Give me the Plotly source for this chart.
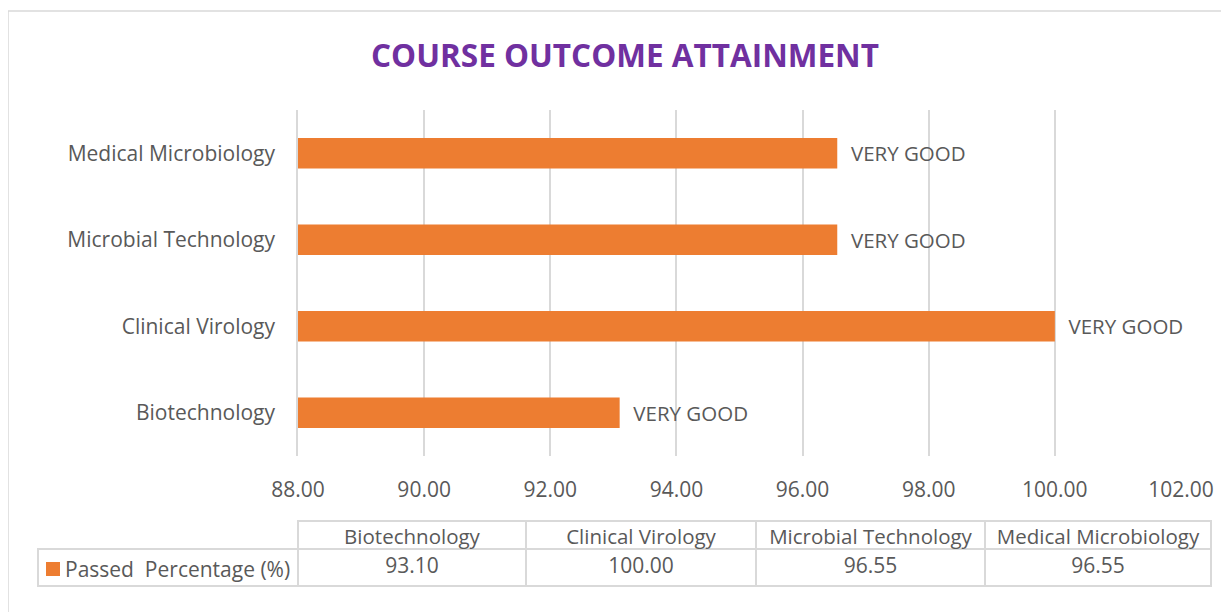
import plotly.graph_objects as go

categories = ["Biotechnology", "Clinical Virology", "Microbial Technology", "Medical Microbiology"]
passed_pct = [93.10, 100.00, 96.55, 96.55]
bar_labels = ["VERY GOOD", "VERY GOOD", "VERY GOOD", "VERY GOOD"]
series_name = "Passed\u00a0 Percentage (%)"
title_text = "COURSE OUTCOME ATTAINMENT"

W, H = 1229, 612
OFF = 8  # page body margin
ORANGE = "#ED7D31"
GREY = "#595959"
GRID = "#D9D9D9"
FONT = "'Open Sans', Lato, sans-serif"
FS = 21


def px(x):
    return (x - OFF) / W


def py(y):
    return 1 - (y - OFF) / H


fig = go.Figure()

fig.add_trace(go.Bar(
    y=categories, x=passed_pct, orientation="h",
    marker=dict(color=ORANGE, line=dict(width=0)),
    text=["\u00a0\u00a0" + t for t in bar_labels],
    textposition="outside", cliponaxis=False,
    textfont=dict(family=FONT, size=FS - 0.5, color=GREY),
    hoverinfo="skip", showlegend=False,
    xaxis="x", yaxis="y",
))

# data table beneath the chart
header_vals = [""] + [c.replace(" ", "\u00a0") for c in categories]
cell_vals = [[""]] + [[f"{v:.2f}"] for v in passed_pct]
fig.add_trace(go.Table(
    domain=dict(x=[px(38), px(1211)], y=[0.0, py(521)]),
    columnwidth=[260, 228, 230, 229, 226],
    header=dict(values=header_vals, height=28,
                line=dict(color=["rgba(0,0,0,0)", GRID, GRID, GRID, GRID], width=1.5),
                fill=dict(color=["rgba(0,0,0,0)", "white", "white", "white", "white"]),
                align="center",
                font=dict(family=FONT, size=FS - 0.5, color=GREY)),
    cells=dict(values=cell_vals, height=37,
               line=dict(color=GRID, width=1.5),
               fill=dict(color="white"),
               align="center",
               font=dict(family=FONT, size=FS, color=GREY)),
))

fig.update_layout(
    width=W, height=H,
    margin=dict(l=0, r=0, t=0, b=0, autoexpand=False),
    paper_bgcolor="white", plot_bgcolor="white",
    bargap=0.65,
    title=dict(text=f"<b>{title_text}</b>", x=px(625), xanchor="center",
               y=py(56), yanchor="middle", automargin=False,
               font=dict(family=FONT, size=31.5, color="#7030A0")),
    xaxis=dict(domain=[px(298), px(1181)], range=[88, 102], dtick=2, tick0=88,
               tickformat=".2f", showgrid=True, gridcolor=GRID, gridwidth=1.5,
               zeroline=False, showline=False, automargin=False,
               ticks="outside", ticklen=15, tickcolor="rgba(0,0,0,0)",
               tickfont=dict(family=FONT, size=FS, color=GREY), fixedrange=True),
    yaxis=dict(domain=[py(456), py(110)], showgrid=False,
               showline=True, linecolor=GRID, linewidth=1.5, automargin=False,
               ticks="outside", ticklen=17, tickcolor="rgba(0,0,0,0)",
               tickfont=dict(family=FONT, size=FS, color=GREY), fixedrange=True),
    annotations=[dict(xref="paper", yref="paper", x=px(63), y=py(569),
                      xanchor="left", yanchor="middle", showarrow=False,
                      text=series_name,
                      font=dict(family=FONT, size=FS, color=GREY))],
    shapes=[dict(type="rect", xref="paper", yref="paper",
                 x0=px(8), x1=1.01, y0=-0.02, y1=py(11),
                 line=dict(color=GRID, width=1.5), fillcolor="rgba(0,0,0,0)", layer="below"),
            dict(type="rect", xref="paper", yref="paper",
                 x0=px(46), x1=px(60), y0=py(576), y1=py(562),
                 line=dict(width=0), fillcolor=ORANGE, layer="above")],
)

fig.write_html("out.html")
